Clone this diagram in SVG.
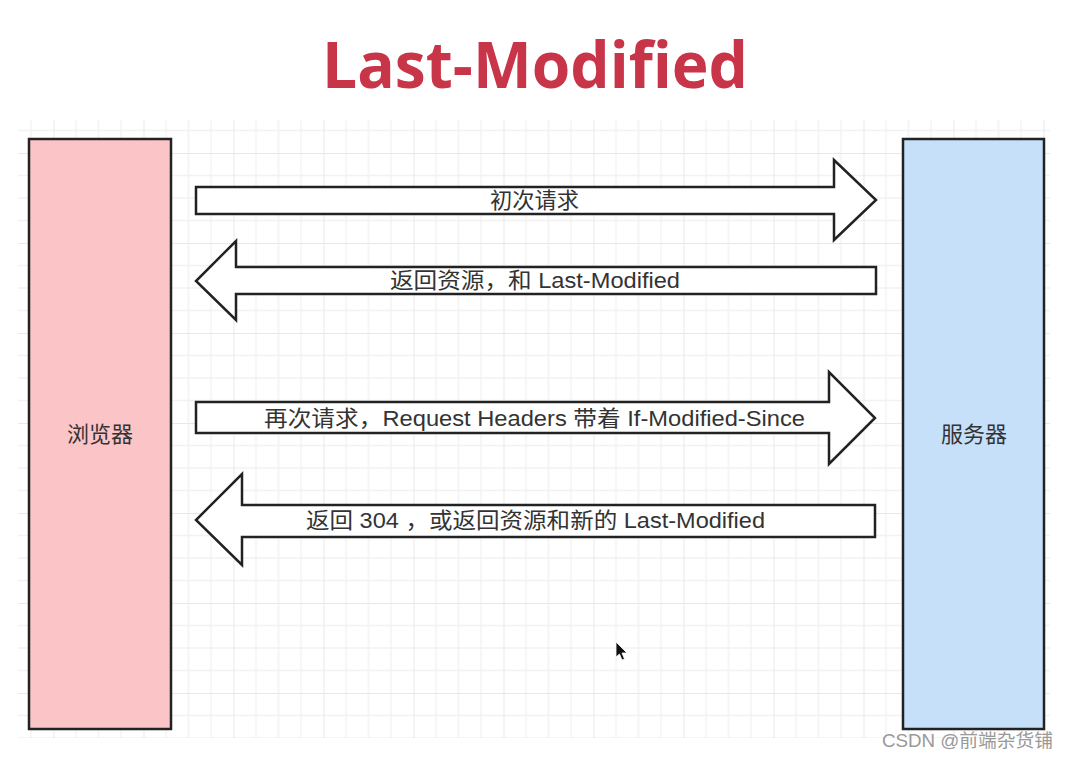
<svg xmlns="http://www.w3.org/2000/svg" width="1069" height="760" viewBox="0 0 1069 760">
<style>
.lbl{font-family:"Liberation Sans","Noto Sans CJK SC",sans-serif;font-size:22px;fill:#333;text-anchor:middle}
.node{font-family:"Liberation Sans","Noto Sans CJK SC",sans-serif;font-size:22px;fill:#333;text-anchor:middle}
.arrow{fill:#fff;stroke:#222;stroke-width:2.5;stroke-linejoin:miter}
.box{stroke:#222;stroke-width:2.5}
</style>
<defs>
<pattern id="grid" patternUnits="userSpaceOnUse" x="53.5" y="153" width="90" height="90">
<path d="M22.5 0V90M45 0V90M67.5 0V90M0 22.5H90M0 45H90M0 67.5H90" stroke="#f2f2f2" stroke-width="1.5" fill="none"/>
<path d="M0 0V90M0 0H90" stroke="#e8e8e8" stroke-width="2" fill="none"/>
</pattern>
</defs>
<rect width="1069" height="760" fill="#fff"/>
<rect x="18" y="120" width="1032" height="618" fill="url(#grid)"/>
<text x="535" y="88" font-family="'Open Sans','Noto Sans',sans-serif" font-weight="bold" font-size="64" fill="#C83448" text-anchor="middle" textLength="426" lengthAdjust="spacingAndGlyphs">Last-Modified</text>
<g id="browser">
<rect class="box" x="29" y="139" width="142" height="590" fill="#FBC4C6"/>
<text class="node" x="100" y="442">浏览器</text>
</g>
<g id="server">
<rect class="box" x="903" y="139" width="141" height="590" fill="#C6E0FA"/>
<text class="node" x="974" y="442">服务器</text>
</g>
<g id="connectors">
<g id="req1">
<polygon class="arrow" points="196,187 834,187 834,160 876,200 834,240 834,214 196,214"/>
<text class="lbl" x="534.5" y="208" textLength="89" lengthAdjust="spacingAndGlyphs">初次请求</text>
</g>
<g id="resp1">
<polygon class="arrow" points="876,267 236,267 236,241 196,281 236,320 236,294 876,294"/>
<text class="lbl" x="535" y="288" textLength="290" lengthAdjust="spacingAndGlyphs">返回资源，和 Last-Modified</text>
</g>
<g id="req2">
<polygon class="arrow" points="196,402 829,402 829,372 875,418 829,464 829,433 196,433"/>
<text class="lbl" x="534.5" y="426" textLength="541" lengthAdjust="spacingAndGlyphs">再次请求，Request Headers 带着 If-Modified-Since</text>
</g>
<g id="resp2">
<polygon class="arrow" points="875,505 242,505 242,474 196,520 242,565 242,537 875,537"/>
<text class="lbl" x="535.5" y="528" textLength="459" lengthAdjust="spacingAndGlyphs">返回 304 ，或返回资源和新的 Last-Modified</text>
</g>
</g>
<path d="M616 642 L616 657 L619.5 654 L622 660 L624.5 659 L622 653 L627 653 Z" fill="#111" stroke="#fff" stroke-width="0.8"/>
<text x="1053" y="747" font-family="'Liberation Sans','Noto Sans CJK SC',sans-serif" font-size="18" fill="#999" text-anchor="end" textLength="171" lengthAdjust="spacingAndGlyphs">CSDN @前端杂货铺</text>
</svg>
